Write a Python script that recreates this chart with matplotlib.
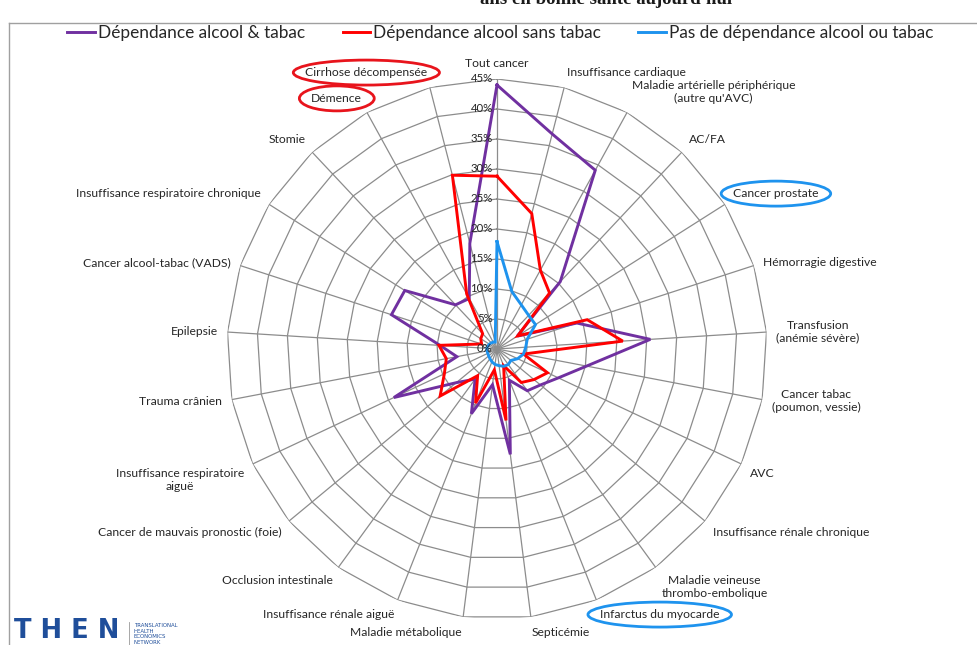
import numpy as np
import matplotlib
matplotlib.use("Agg")
import matplotlib.pyplot as plt
from matplotlib.patches import Ellipse
from matplotlib.lines import Line2D

# ---------------- data ----------------
categories = [
    "Tout cancer", "Insuffisance cardiaque",
    "Maladie artérielle périphérique\n(autre qu'AVC)", "AC/FA", "Cancer prostate",
    "Hémorragie digestive", "Transfusion\n(anémie sévère)",
    "Cancer tabac\n(poumon, vessie)", "AVC", "Insuffisance rénale chronique",
    "Maladie veineuse\nthrombo-embolique", "Infarctus du myocarde", "Septicémie",
    "Maladie métabolique", "Insuffisance rénale aiguë", "Occlusion intestinale",
    "Cancer de mauvais pronostic (foie)", "Insuffisance respiratoire\naiguë",
    "Trauma crânien", "Epilepsie", "Cancer alcool-tabac (VADS)",
    "Insuffisance respiratoire chronique", "Stomie", "Démence",
    "Cirrhose décompensée",
]
alcool_tabac = [44, 37, 34, 15.4, 4, 14, 25.6, 15.2, 11.3, 9.4, 8.6, 5.6, 17.7,
                6, 11.6, 6.2, 8.8, 19, 6.8, 9.5, 18.5, 18.2, 10.1, 9.6, 18.2]
alcool_sans_tabac = [28.8, 23.3, 15, 12.8, 4.1, 15.8, 21, 4.5, 9.3, 8, 6.9, 3,
                     12, 3.5, 9.7, 5.5, 12.3, 9.7, 8.6, 9.7, 2.7, 3.2, 3.5,
                     10.5, 29.9]
sans_dependance = [17.9, 9.9, 8.4, 7.7, 7.6, 5.3, 4.8, 4.5, 3.8, 3.0, 3.2, 3.1,
                   2.8, 2.6, 2.3, 2.0, 1.8, 1.7, 1.7, 1.7, 1.6, 1.5, 1.4, 1.3,
                   1.2]
series_names = ["Dépendance alcool & tabac", "Dépendance alcool sans tabac",
                "Pas de dépendance alcool ou tabac"]
radial_ticks = [0, 5, 10, 15, 20, 25, 30, 35, 40, 45]
highlight_red = ["Cirrhose décompensée", "Démence"]
highlight_blue = ["Cancer prostate", "Infarctus du myocarde"]

# ---------------- figure ----------------
W, H = 977, 645
fig = plt.figure(figsize=(W / 100, H / 100), dpi=100)
fig.patch.set_facecolor("white")

cx, cy, R = 497, 349, 270
ax = fig.add_axes([(cx - R) / W, 1 - (cy + R) / H, 2 * R / W, 2 * R / H],
                  projection="polar")
ax.set_theta_zero_location("N")
ax.set_theta_direction(-1)
rmax = radial_ticks[-1]
ax.set_ylim(0, rmax)
ax.axis("off")

n = len(categories)
angles = np.arange(n) * 2 * np.pi / n
closed = np.append(angles, angles[0])

grid_col = "#8c8c8c"
for r in radial_ticks[1:]:
    ax.plot(closed, [r] * (n + 1), color=grid_col, lw=0.9, zorder=1)
for a in angles:
    ax.plot([a, a], [0, rmax], color=grid_col, lw=0.9, zorder=1)

colors = ["#7030A0", "#FF0000", "#1E93EE"]
handles = []
for vals, col, name in zip([alcool_tabac, alcool_sans_tabac, sans_dependance],
                           colors, series_names):
    v = np.append(vals, vals[0])
    ln, = ax.plot(closed, v, color=col, lw=2.1, zorder=3, label=name,
                  solid_joinstyle="miter")
    handles.append(ln)

lab_font = "Lato"
for r in radial_ticks:
    ax.annotate(f"{r}%", xy=(0, r), xytext=(-3, 0), textcoords="offset points",
                ha="right", va="center", fontsize=8.2, family=lab_font,
                color="#262626", zorder=4)

texts = {}
for a, lab in zip(angles, categories):
    s, c = np.sin(a), np.cos(a)
    ha = "left" if s > 0.1 else ("right" if s < -0.1 else "center")
    va = "bottom" if c > 0.35 else ("top" if c < -0.35 else "center")
    off = 7
    t = ax.annotate(lab, xy=(a, rmax), xytext=(off * s, off * c),
                    textcoords="offset points", ha=ha, va=va,
                    multialignment="center", fontsize=8.7, family=lab_font,
                    color="#262626", annotation_clip=False)
    texts[lab] = t

# legend
fig.legend(handles=handles, loc="center", bbox_to_anchor=(0.512, 1 - 33 / H),
           ncol=3, frameon=False, prop={"family": lab_font, "size": 12.4},
           handlelength=1.6, handletextpad=0.15, columnspacing=2.2,
           labelcolor="#262626")

# frame of chart area
fig.add_artist(Line2D([9 / W, 9 / W], [0, 1 - 23 / H], transform=fig.transFigure,
                      color="#a0a0a0", lw=1.0))
fig.add_artist(Line2D([9 / W, 1], [1 - 23 / H, 1 - 23 / H],
                      transform=fig.transFigure, color="#a0a0a0", lw=1.0))

# cut-off title
fig.text(606 / W, 1.0, "ans en bonne santé aujourd'hui", ha="center", va="center",
         family="Liberation Serif", fontweight="bold", fontsize=13.5,
         color="#1a1a1a")

# logo
fig.text(14 / W, 1 - 644 / H, "T H E N", ha="left", va="bottom",
         family="DejaVu Sans", fontweight="bold", fontsize=18.5, color="#1F4E9A")
fig.add_artist(Line2D([129 / W, 129 / W], [0, 1 - 622 / H],
                      transform=fig.transFigure, color="#999999", lw=0.6))
fig.text(134 / W, 1 - 623 / H, "TRANSLATIONAL\nHEALTH\nECONOMICS\nNETWORK",
         ha="left", va="top", family="DejaVu Sans", fontsize=3.9,
         color="#1F4E9A", linespacing=1.15)

# ellipses around highlighted labels
fig.canvas.draw()
renderer = fig.canvas.get_renderer()
for labs, col in [(highlight_red, "#E8141C"), (highlight_blue, "#1E93EE")]:
    for lab in labs:
        bb = texts[lab].get_window_extent(renderer)
        x0, y0 = (bb.x0 + bb.x1) / 2, (bb.y0 + bb.y1) / 2
        w, h = bb.width + 24, bb.height + 14
        e = Ellipse((x0 / W, y0 / H), w / W, h / H, transform=fig.transFigure,
                    fill=False, edgecolor=col, lw=2.0)
        fig.add_artist(e)

fig.savefig("out.png", dpi=100, facecolor="white")
